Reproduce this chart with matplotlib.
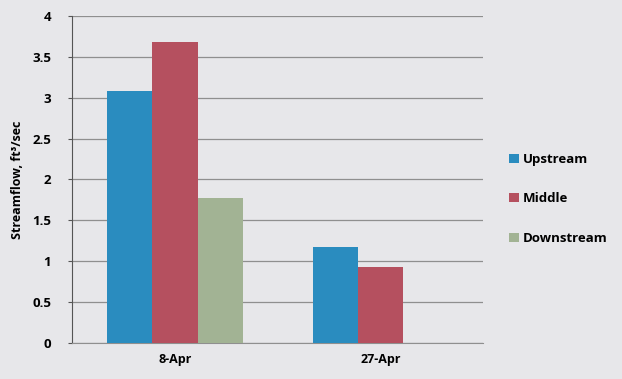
import matplotlib
matplotlib.use("Agg")
import matplotlib.pyplot as plt
import numpy as np

categories = ["8-Apr", "27-Apr"]
series_names = ["Upstream", "Middle", "Downstream"]
upstream = [3.08, 1.17]
middle = [3.68, 0.93]
downstream = [1.77, 0.0]
y_ticks = [0, 0.5, 1, 1.5, 2, 2.5, 3, 3.5, 4]
y_tick_labels = ["0", "0.5", "1", "1.5", "2", "2.5", "3", "3.5", "4"]

colors = ["#2a8cbf", "#b5505f", "#a2b394"]
bg = "#e7e7ea"

plt.rcParams['font.family'] = ['Open Sans', 'DejaVu Sans']

fig = plt.figure(figsize=(6.22, 3.79), dpi=100, facecolor=bg)
ax = fig.add_axes([0.116, 0.095, 0.661, 0.863], facecolor=bg)

x = np.arange(len(categories))
w = 0.22
values = [upstream, middle, downstream]
for i, (name, vals) in enumerate(zip(series_names, values)):
    keep = [v > 0 for v in vals]
    ax.bar(x[keep] + (i - 1) * w, np.array(vals)[keep], width=w,
           color=colors[i], label=name, zorder=3)

ax.set_xlim(-0.5, 1.5)
ax.set_ylim(0, 4)
ax.set_yticks(y_ticks)
ax.set_yticklabels(y_tick_labels, fontsize=9.5, fontweight='bold')
ax.set_xticks(x)
ax.set_xticklabels(categories, fontsize=9, fontweight='bold')
ax.tick_params(axis='x', length=0, pad=7)
ax.tick_params(axis='y', length=3, color="#555555", pad=12)
ax.yaxis.grid(True, color="#8f8f8f", linewidth=0.9, zorder=0)

for s in ["top", "right"]:
    ax.spines[s].set_visible(False)
ax.spines["left"].set_color("#555555")
ax.spines["bottom"].set_color("#8f8f8f")

ax.set_ylabel("Streamflow, ft\u00b3/sec", fontsize=9, fontweight='bold', labelpad=6)

handles, labels = ax.get_legend_handles_labels()
leg = fig.legend(handles, labels, loc="center left", bbox_to_anchor=(0.8, 0.475),
                 frameon=False, fontsize=9.5, handlelength=0.7, handleheight=0.7,
                 handletextpad=0.3, labelspacing=2.0)
for t in leg.get_texts():
    t.set_fontweight('bold')

fig.savefig("out.png", dpi=100, facecolor=bg)
